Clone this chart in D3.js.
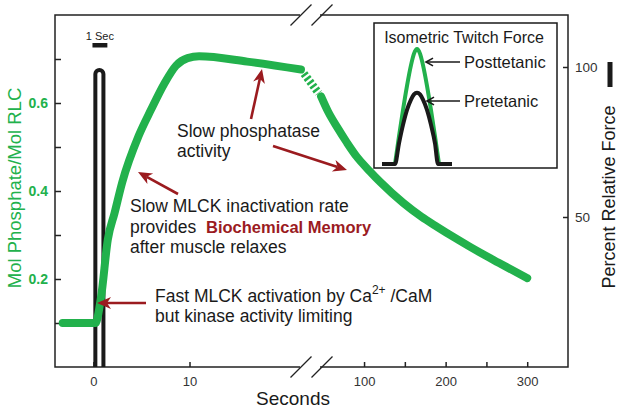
<!DOCTYPE html>
<html><head><meta charset="utf-8">
<script src="https://cdn.jsdelivr.net/npm/d3@7"></script>
<style>
body{margin:0;background:#fff}
svg{display:block}
text{font-family:"Liberation Sans",Arial,Helvetica,sans-serif}
</style>
</head><body>
<svg id="c" width="621" height="411"></svg>
<script>
// ---------- data ----------
const earlyTime = [-3.2, 0.2, 0.8, 1.5, 2.2, 3.0, 4.7, 6.0, 7.4, 8.6, 9.8, 11.0, 16.0, 21.6];
const earlyPhos = [0.1, 0.1, 0.16, 0.29, 0.35, 0.42, 0.525, 0.585, 0.645, 0.685, 0.702, 0.706, 0.694, 0.676];
const lateTime = [47.3, 56, 67, 79, 91, 107, 120, 148, 170, 190, 210, 230, 265, 300];
const latePhos = [0.615, 0.58, 0.545, 0.51, 0.478, 0.445, 0.42, 0.373, 0.342, 0.318, 0.295, 0.273, 0.237, 0.202];
const pulseTime = [0.2, 1.04];
const pulsePeak = 99;
const scaleBarSec = [-0.1, 1.45];
const leftTicks = [0.1, 0.2, 0.3, 0.4, 0.5, 0.6, 0.7];
const leftLabels = [0.2, 0.4, 0.6];
const earlyTicks = [0, 10];
const lateTicks = [100, 150, 200, 250, 300];
const lateLabels = [100, 200, 300];
const rightTicks = [50, 100];
const twitchTime = [0, 13, 17, 21, 25, 29, 32, 35, 38, 41, 45, 49, 53, 56, 70];
const pretetanic = [0, 0, 18, 34, 47, 56, 60.5, 62, 60.5, 56, 47, 34, 18, 0, 0];
const postTime = [13, 17, 21, 25, 29, 32, 35, 38, 41, 45, 49, 53, 57];
const posttetanic = [0, 24, 47, 68, 86, 96, 100, 96, 86, 68, 47, 24, 0];

// ---------- setup ----------
const GREEN = "#22b14c", RED = "#9b1b1f", INK = "#1a1a1a";
const svg = d3.select("#c");
const pTop = 15, pBottom = 367, pLeft = 55, pRight = 568, gapL = 300, gapR = 320;
const xA = d3.scaleLinear().domain([-4, 21.5]).range([pLeft, gapL]);
const xB = d3.scaleLinear().domain([46, 350]).range([gapR, pRight]);
const yL = d3.scaleLinear().domain([0, 0.8]).range([pBottom, pTop]);
const yR = d3.scaleLinear().domain([0, (pBottom - pTop) / 3]).range([pBottom, pTop]);

// frame
const frame = svg.append("g").attr("stroke", "#222").attr("stroke-width", 1.5).attr("fill", "none");
frame.append("path").attr("d", `M${gapL},${pTop}H${pLeft}V${pBottom}H${gapL}`);
frame.append("path").attr("d", `M${gapR},${pTop}H${pRight}V${pBottom}H${gapR}`);
[pTop, pBottom].forEach(yy => {
  [301, 322].forEach(cx => {
    frame.append("line").attr("x1", cx - 10.5).attr("y1", yy + 10.5).attr("x2", cx + 10.5).attr("y2", yy - 10.5).attr("stroke-width", 1.3);
  });
});

// axes
function styleAxis(g) {
  g.select(".domain").remove();
  g.selectAll(".tick line").attr("stroke", "#222").attr("stroke-width", 1.5);
}
const FF = '"Liberation Sans",Arial,sans-serif';
svg.append("g").attr("transform", `translate(${pLeft},0)`)
  .call(d3.axisLeft(yL).tickValues(leftTicks).tickSize(-6).tickPadding(7)
    .tickFormat(d => leftLabels.some(v => Math.abs(v - d) < 1e-9) ? d3.format(".1f")(d) : ""))
  .call(styleAxis)
  .call(g => g.selectAll("text").attr("fill", GREEN).attr("font-weight", "bold").attr("font-size", 14).attr("font-family", FF));
svg.append("g").attr("transform", `translate(0,${pBottom})`)
  .call(d3.axisBottom(xA).tickValues(earlyTicks).tickSize(-5).tickPadding(10))
  .call(styleAxis)
  .call(g => g.selectAll("text").attr("fill", "#333").attr("font-size", 13).attr("font-family", FF));
svg.append("g").attr("transform", `translate(0,${pBottom})`)
  .call(d3.axisBottom(xB).tickValues(lateTicks).tickSize(-5).tickPadding(10)
    .tickFormat(d => lateLabels.includes(d) ? d : ""))
  .call(styleAxis)
  .call(g => g.selectAll("text").attr("fill", "#333").attr("font-size", 13).attr("font-family", FF));
svg.append("g").attr("transform", `translate(${pRight},0)`)
  .call(d3.axisRight(yR).tickValues(rightTicks).tickSize(-5).tickPadding(7))
  .call(styleAxis)
  .call(g => g.selectAll("text").attr("fill", "#333").attr("font-size", 13.5).attr("font-family", FF));

// axis titles
svg.append("text").attr("transform", "translate(20.5,188) rotate(-90)").attr("text-anchor", "middle")
  .attr("fill", GREEN).attr("font-size", 18.5).text("Mol Phosphate/Mol RLC");
svg.append("text").attr("transform", "translate(615,197) rotate(-90)").attr("text-anchor", "middle")
  .attr("fill", INK).attr("font-size", 18).text("Percent Relative Force");
svg.append("rect").attr("x", 607.5).attr("y", 62).attr("width", 5).attr("height", 25).attr("fill", INK);
svg.append("text").attr("x", 293).attr("y", 405).attr("text-anchor", "middle")
  .attr("fill", INK).attr("font-size", 19).text("Seconds");

// 1 Sec scale bar
svg.append("text").attr("x", (xA(scaleBarSec[0]) + xA(scaleBarSec[1])) / 2).attr("y", 40).attr("text-anchor", "middle")
  .attr("font-size", 11).attr("fill", INK).text("1 Sec");
svg.append("rect").attr("x", xA(scaleBarSec[0])).attr("y", 43).attr("width", xA(scaleBarSec[1]) - xA(scaleBarSec[0]))
  .attr("height", 4.5).attr("fill", INK);

// force pulse (black)
{
  const xa = xA(pulseTime[0]), xb = xA(pulseTime[1]);
  const r = (xb - xa) / 2;
  const yp = yR(pulsePeak);
  svg.append("path")
    .attr("d", `M${xa},${yR(0)}V${yp + r}A${r},${r} 0 0 1 ${xb},${yp + r}V${yR(0)}`)
    .attr("fill", "none").attr("stroke", INK).attr("stroke-width", 4);
}

// green phosphorylation curve
const lineA = d3.line().x(d => xA(d[0])).y(d => yL(d[1])).curve(d3.curveMonotoneX);
const lineB = d3.line().x(d => xB(d[0])).y(d => yL(d[1])).curve(d3.curveMonotoneX);
const early = earlyTime.map((t, i) => [t, earlyPhos[i]]);
const late = lateTime.map((t, i) => [t, latePhos[i]]);
svg.append("path").attr("d", lineA(early)).attr("fill", "none").attr("stroke", GREEN)
  .attr("stroke-width", 8).attr("stroke-linecap", "round").attr("stroke-linejoin", "round");
svg.append("path").attr("d", lineB(late)).attr("fill", "none").attr("stroke", GREEN)
  .attr("stroke-width", 8).attr("stroke-linecap", "round").attr("stroke-linejoin", "round");
{
  const e = early[early.length - 1], s = late[0];
  const x1 = xA(e[0]), y1 = yL(e[1]), x2 = xB(s[0]), y2 = yL(s[1]);
  const len = Math.hypot(x2 - x1, y2 - y1);
  const ux = (x2 - x1) / len, uy = (y2 - y1) / len;
  svg.append("line").attr("x1", x1 + ux * 5).attr("y1", y1 + uy * 5).attr("x2", x2 - ux * 4).attr("y2", y2 - uy * 4)
    .attr("stroke", GREEN).attr("stroke-width", 8).attr("stroke-dasharray", "2.6,2.2");
}

// inset
const inset = svg.append("g");
inset.append("rect").attr("x", 374).attr("y", 23).attr("width", 183).attr("height", 145)
  .attr("fill", "#fff").attr("stroke", INK).attr("stroke-width", 1.5);
inset.append("text").attr("x", 464).attr("y", 43).attr("text-anchor", "middle").attr("font-size", 16)
  .attr("fill", INK).text("Isometric Twitch Force");
const xI = d3.scaleLinear().domain([0, 70]).range([382, 452]);
const yI = d3.scaleLinear().domain([0, 100]).range([164, 49]);
const lineI = d3.line().x(d => xI(d[0])).y(d => yI(d[1])).curve(d3.curveMonotoneX);
inset.append("path").attr("d", lineI(postTime.map((t, i) => [t, posttetanic[i]])))
  .attr("fill", "none").attr("stroke", GREEN).attr("stroke-width", 4);
inset.append("path").attr("d", lineI(twitchTime.map((t, i) => [t, pretetanic[i]])))
  .attr("fill", "none").attr("stroke", INK).attr("stroke-width", 4);
function openArrow(g, x1, y1, x2, y2, color, w) {
  g.append("line").attr("x1", x1).attr("y1", y1).attr("x2", x2).attr("y2", y2).attr("stroke", color).attr("stroke-width", w);
  const a = Math.atan2(y2 - y1, x2 - x1), L = 8, H = 0.5;
  g.append("path").attr("d", `M${x2 - L * Math.cos(a - H)},${y2 - L * Math.sin(a - H)}L${x2},${y2}L${x2 - L * Math.cos(a + H)},${y2 - L * Math.sin(a + H)}`)
    .attr("fill", "none").attr("stroke", color).attr("stroke-width", w);
}
openArrow(inset, 460, 62, 426, 62, INK, 1.6);
openArrow(inset, 460, 101, 427, 101, INK, 1.6);
inset.append("text").attr("x", 464).attr("y", 68).attr("font-size", 16.5).attr("fill", INK).text("Posttetanic");
inset.append("text").attr("x", 464).attr("y", 107).attr("font-size", 16.5).attr("fill", INK).text("Pretetanic");

// red annotation arrows
function redArrow(x1, y1, x2, y2) {
  const a = Math.atan2(y2 - y1, x2 - x1), L = 14, W = 6, N = 10;
  const ca = Math.cos(a), sa = Math.sin(a);
  svg.append("line").attr("x1", x1).attr("y1", y1).attr("x2", x2 - ca * N).attr("y2", y2 - sa * N)
    .attr("stroke", RED).attr("stroke-width", 2.6);
  const bx = x2 - ca * L, by = y2 - sa * L;
  const nx = x2 - ca * N, ny = y2 - sa * N;
  svg.append("path").attr("d", `M${x2},${y2}L${bx - sa * W},${by + ca * W}L${nx},${ny}L${bx + sa * W},${by - ca * W}Z`)
    .attr("fill", RED);
}
redArrow(251, 119, 262, 69);
redArrow(273, 146, 347, 170);
redArrow(178, 194, 138, 172);
redArrow(146, 303, 97, 303);

// annotation texts
const FS = 17.5;
svg.append("text").attr("x", 177).attr("y", 137).attr("font-size", FS).attr("fill", INK).text("Slow phosphatase");
svg.append("text").attr("x", 177).attr("y", 157).attr("font-size", FS).attr("fill", INK).text("activity");
svg.append("text").attr("x", 130).attr("y", 212).attr("font-size", FS).attr("fill", INK).text("Slow MLCK inactivation rate");
svg.append("text").attr("x", 130).attr("y", 233).attr("font-size", FS).attr("fill", INK).text("provides");
svg.append("text").attr("x", 206).attr("y", 233).attr("font-size", 16.5).attr("font-weight", "bold").attr("fill", RED).text("Biochemical Memory");
svg.append("text").attr("x", 130).attr("y", 253).attr("font-size", FS).attr("fill", INK).text("after muscle relaxes");
{
  const t = svg.append("text").attr("x", 155).attr("y", 302).attr("font-size", FS).attr("fill", INK);
  t.append("tspan").text("Fast MLCK activation by Ca");
  t.append("tspan").attr("dy", -8).attr("font-size", 12).text("2+");
  t.append("tspan").attr("dy", 8).text(" /CaM");
}
svg.append("text").attr("x", 155).attr("y", 322).attr("font-size", FS).attr("fill", INK).text("but kinase activity limiting");
</script>
</body></html>
